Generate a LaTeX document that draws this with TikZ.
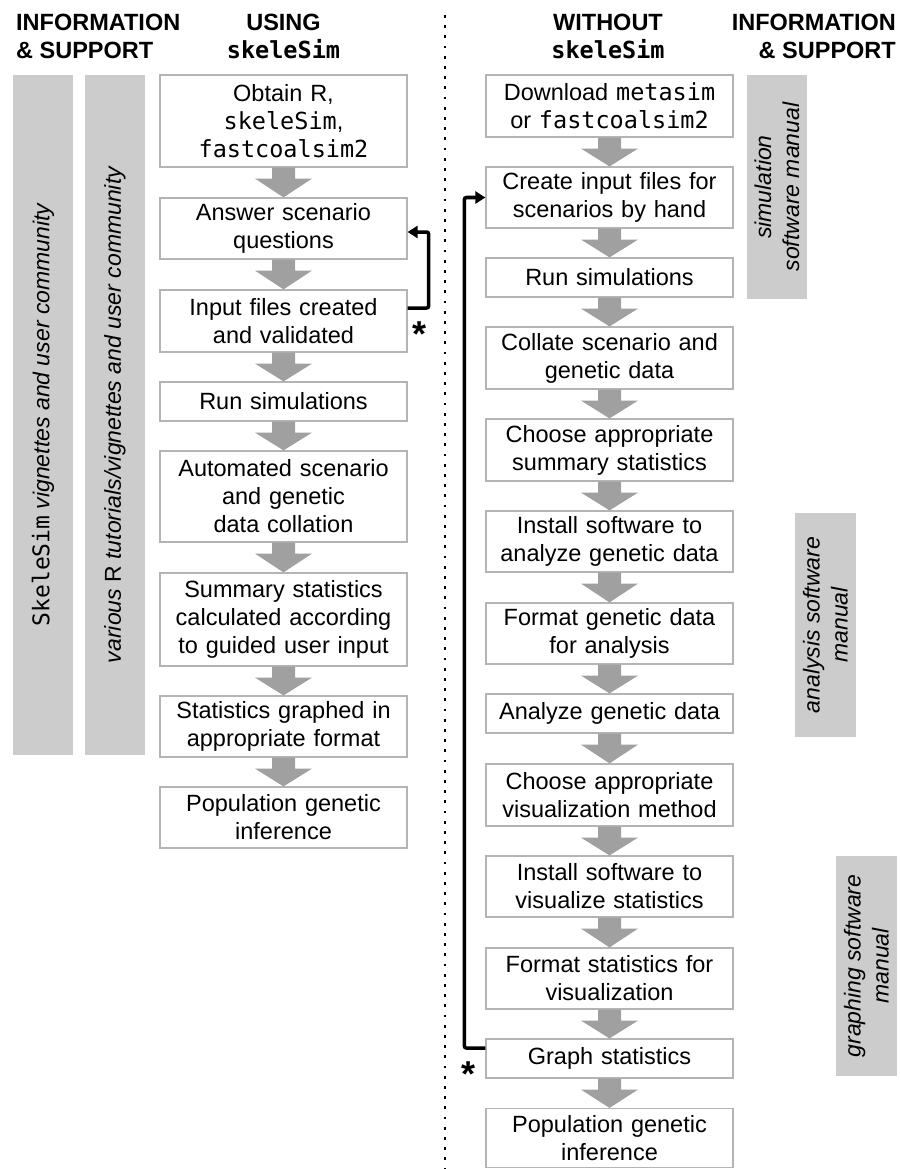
\documentclass[tikz,border=0pt]{standalone}
\usepackage{fontspec}
\setmainfont{Liberation Sans}
\setmonofont{DejaVu Sans Mono}
\usetikzlibrary{calc,arrows.meta}
\definecolor{boxline}{HTML}{B4B4B4}
\definecolor{arrowgray}{HTML}{A0A0A0}
\definecolor{barfill}{HTML}{CCCCCC}
\tikzset{
  stepbox/.style={draw=boxline, line width=1.2pt, fill=white, text width=240pt,
    inner xsep=3.5pt, inner ysep=0pt, align=center,
    font=\fontsize{23.5}{28}\selectfont},
  sidebar/.style={fill=barfill, rotate=90, inner sep=0pt, align=center,
    font=\fontsize{23}{28}\selectfont\itshape},
  hdr/.style={inner sep=0pt, font=\fontsize{23.5}{28}\selectfont\bfseries},
  fb/.style={line width=3.5pt, rounded corners=2pt, -{Triangle[length=10pt,width=12pt]}},
  starmark/.style={inner sep=0pt, anchor=base, font=\fontsize{36}{36}\selectfont\bfseries},
  dotline/.style={line width=2.8pt, dash pattern=on 2.8pt off 7.4pt}
}
\newcommand\grayarrow[2]{%
  \fill[arrowgray] ($(#1.south)+(-11.5,0)$) -- ($(#1.south)+(11.5,0)$)
    -- ($(#1.south)+(11.5,11)$) -- ($(#1.south)+(28.5,11)$) -- (#2.north)
    -- ($(#1.south)+(-28.5,11)$) -- ($(#1.south)+(-11.5,11)$) -- cycle;}
\begin{document}
\begin{tikzpicture}[x=1pt,y=-1pt]
\useasboundingbox (0,0) rectangle (901,1169);

% headers
\node[hdr, anchor=base west] (hL1) at (16,31) {INFORMATION};
\node[hdr, anchor=base west] (hL2) at (16,59) {\& SUPPORT};
\node[hdr, anchor=base] (hU1) at (283.5,31) {USING};
\node[hdr, anchor=base] (hU2) at (283.5,59) {\texttt{\bfseries skeleSim}};
\node[hdr, anchor=base] (hW1) at (608,31) {WITHOUT};
\node[hdr, anchor=base] (hW2) at (608,59) {\texttt{\bfseries skeleSim}};
\node[hdr, anchor=base east] (hR1) at (896,31) {INFORMATION};
\node[hdr, anchor=base east] (hR2) at (896,59) {\& SUPPORT};

% dotted divider
\coordinate (dtop) at (445,15);
\coordinate (dbot) at (445,1169);
\draw[dotline] (dtop) -- (dbot);

% side bars
\node[sidebar, minimum width=680pt, minimum height=60pt] (bar1) at (43,415)
  {\upshape\texttt{SkeleSim} \itshape vignettes and user community};
\node[sidebar, minimum width=680pt, minimum height=60pt] (bar2) at (115,415)
  {various \upshape R \itshape tutorials/vignettes and user community};
\node[sidebar, minimum width=224pt, minimum height=60pt] (bar3) at (777,187)
  {simulation\\software manual};
\node[sidebar, minimum width=224pt, minimum height=61pt] (bar4) at (825.5,625)
  {analysis software\\manual};
\node[sidebar, minimum width=220pt, minimum height=61pt] (bar5) at (866.5,966)
  {graphing software\\manual};

% left column
\node[stepbox, minimum height=92pt] (lA) at (283.5,121) {Obtain R,\\\texttt{skeleSim},\\\texttt{fastcoalsim2}};
\node[stepbox, minimum height=61pt] (lB) at (283.5,228.5) {Answer scenario\\questions};
\node[stepbox, minimum height=62pt] (lC) at (283.5,321) {Input files created\\and validated};
\node[stepbox, minimum height=39pt] (lD) at (283.5,401.5) {Run simulations};
\node[stepbox, minimum height=91pt] (lE) at (283.5,496.5) {Automated scenario\\and genetic\\data collation};
\node[stepbox, minimum height=93pt] (lF) at (283.5,619.5) {Summary statistics\\calculated according\\to guided user input};
\node[stepbox, minimum height=61pt] (lG) at (283.5,726.5) {Statistics graphed in\\appropriate format};
\node[stepbox, minimum height=61pt] (lH) at (283.5,817.5) {Population genetic\\inference};

% right column
\node[stepbox, minimum height=62pt] (rA) at (609.5,106) {Download \texttt{metasim}\\or \texttt{fastcoalsim2}};
\node[stepbox, minimum height=61pt] (rB) at (609.5,197.5) {Create input files for\\scenarios by hand};
\node[stepbox, minimum height=39pt] (rC) at (609.5,277.5) {Run simulations};
\node[stepbox, minimum height=62pt] (rD) at (609.5,358) {Collate scenario and\\genetic data};
\node[stepbox, minimum height=62pt] (rE) at (609.5,450) {Choose appropriate\\summary statistics};
\node[stepbox, minimum height=61pt] (rF) at (609.5,541.5) {Install software to\\analyze genetic data};
\node[stepbox, minimum height=61pt] (rG) at (609.5,633.5) {Format genetic data\\for analysis};
\node[stepbox, minimum height=39pt] (rH) at (609.5,713.5) {Analyze genetic data};
\node[stepbox, minimum height=62pt] (rI) at (609.5,795) {Choose appropriate\\visualization method};
\node[stepbox, minimum height=61pt] (rJ) at (609.5,886.5) {Install software to\\visualize statistics};
\node[stepbox, minimum height=61pt] (rK) at (609.5,978.5) {Format statistics for\\visualization};
\node[stepbox, minimum height=39pt] (rL) at (609.5,1058.5) {Graph statistics};
\node[stepbox, minimum height=59pt] (rM) at (609.5,1138) {Population genetic\\inference};

% gray flow arrows
\grayarrow{lA}{lB}\grayarrow{lB}{lC}\grayarrow{lC}{lD}\grayarrow{lD}{lE}
\grayarrow{lE}{lF}\grayarrow{lF}{lG}\grayarrow{lG}{lH}
\grayarrow{rA}{rB}\grayarrow{rB}{rC}\grayarrow{rC}{rD}\grayarrow{rD}{rE}
\grayarrow{rE}{rF}\grayarrow{rF}{rG}\grayarrow{rG}{rH}\grayarrow{rH}{rI}
\grayarrow{rI}{rJ}\grayarrow{rJ}{rK}\grayarrow{rK}{rL}\grayarrow{rL}{rM}

% feedback arrows
\draw[fb] ([yshift=13pt]lC.east) -- ++(21,0) |- ([yshift=-3.5pt]lB.east);
\draw[fb] ([yshift=10.5pt]rL.west) -- ++(-21,0) |- (rB.west);
\node[starmark] (st1) at (419,346) {*};
\node[starmark] (st2) at (468,1086) {*};
\end{tikzpicture}
\end{document}
